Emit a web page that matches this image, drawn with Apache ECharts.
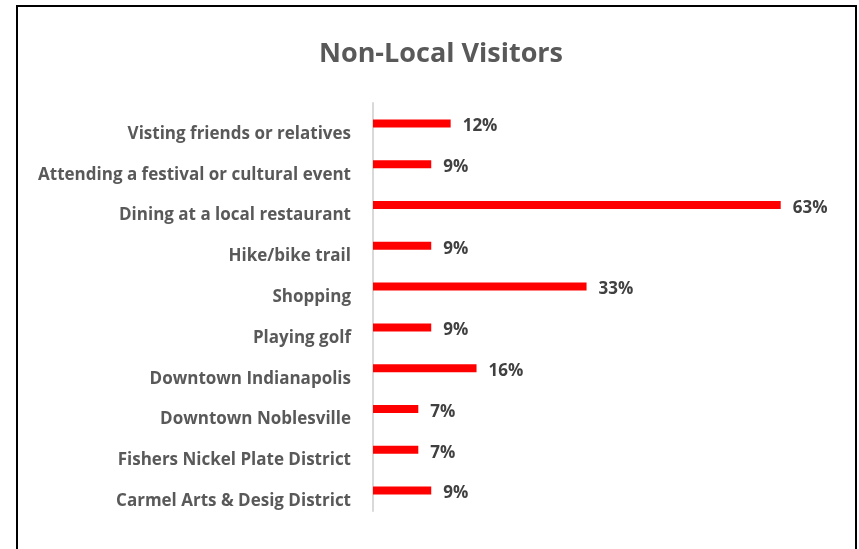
<!DOCTYPE html>
<html>
<head>
<meta charset="utf-8">
<script src="https://cdn.jsdelivr.net/npm/echarts@6/dist/echarts.min.js"></script>
<style>
  html, body { margin: 0; padding: 0; background: #ffffff; }
  #chart { width: 859px; height: 549px; }
</style>
</head>
<body>
<div id="chart"></div>
<script>
// Reasons non-local visitors gave for their trip (share of respondents, %)
const categories = [
  'Visting friends or relatives',
  'Attending a festival or cultural event',
  'Dining at a local restaurant',
  'Hike/bike trail',
  'Shopping',
  'Playing golf',
  'Downtown Indianapolis',
  'Downtown Noblesville',
  'Fishers Nickel Plate District',
  'Carmel Arts & Desig District'
];
const shares = [12, 9, 63, 9, 33, 9, 16, 7, 7, 9];

const FONT = 'Open Sans';

const chart = echarts.init(document.getElementById('chart'), null, { renderer: 'canvas' });

chart.setOption({
  backgroundColor: '#ffffff',
  animation: false,
  title: {
    text: 'Non-Local Visitors',
    left: 436,
    top: 36,
    textAlign: 'center',
    textStyle: {
      fontFamily: FONT,
      fontWeight: 'bold',
      fontSize: 27,
      color: '#595959'
    }
  },
  graphic: [{
    type: 'rect',
    shape: { x: 17, y: 6, width: 839, height: 560 },
    style: { fill: 'none', stroke: '#000000', lineWidth: 2 },
    silent: true
  }],
  grid: { left: 373, right: 33, top: 103, bottom: 38, containLabel: false },
  xAxis: {
    type: 'value',
    min: 0,
    max: 70,
    show: false
  },
  yAxis: {
    type: 'category',
    data: categories,
    inverse: true,
    axisTick: { show: false },
    axisLine: { show: true, lineStyle: { color: '#D9D9D9', width: 2 } },
    axisLabel: {
      margin: 22,
      verticalAlign: 'top',
      lineHeight: 21,
      fontFamily: FONT,
      fontWeight: 'bold',
      fontSize: 17,
      color: '#595959'
    },
    splitLine: { show: false }
  },
  series: [{
    type: 'bar',
    data: shares,
    barWidth: 8,
    itemStyle: { color: '#FF0000' },
    label: {
      show: true,
      position: 'right',
      distance: 12,
      offset: [0, 3],
      formatter: p => p.value + '%',
      fontFamily: FONT,
      fontWeight: 'bold',
      fontSize: 17,
      color: '#404040'
    }
  }]
});
</script>
</body>
</html>
